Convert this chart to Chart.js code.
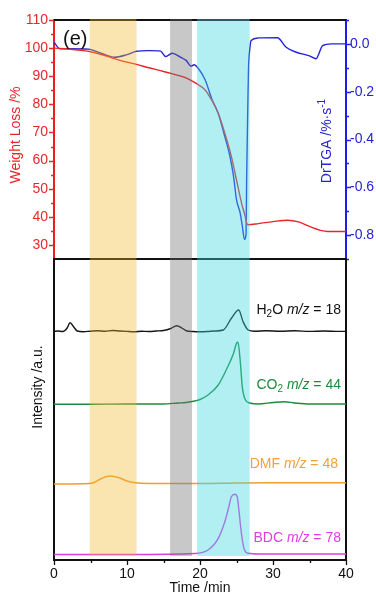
<!DOCTYPE html>
<html><head><meta charset="utf-8">
<script src="https://cdn.jsdelivr.net/npm/chart.js@4.4.0/dist/chart.umd.min.js"></script>
<style>
html,body{margin:0;padding:0;background:#fff;}
#wrap{position:relative;width:376px;height:604px;background:#fff;}
canvas{position:absolute;left:0;top:0;}
</style></head><body>
<div id="wrap"><canvas id="cTop" width="376" height="604"></canvas><canvas id="cBot" width="376" height="604"></canvas></div>
<script>
// ---------- DATA ----------
const wlTime = [0, 2, 4, 5, 6, 8, 10, 11.3, 13, 15, 16, 17, 18, 19.3, 20.7, 21.6, 22.5, 23.4, 24.3, 25.0, 25.7, 26.2, 26.4, 26.6, 28, 30, 32, 33.5, 35, 36.5, 37.5, 40];
const weightLoss = [100, 99.7, 99.1, 98.7, 98.1, 96.5, 95.0, 94.2, 93.0, 91.7, 91.0, 90.3, 89.5, 87.7, 85.1, 81.5, 76.8, 69.7, 61.4, 53.1, 44.8, 40.0, 37.7, 37.2, 37.6, 38.3, 38.8, 38.2, 36.6, 35.2, 34.8, 34.8];

const dtgTime = [0, 0.8, 2, 4.7, 6.5, 8.3, 10, 11.3, 13, 14.6, 15.3, 16.2, 17.3, 18.1, 18.8, 19.2, 19.7, 20.7, 21.6, 22.5, 23.4, 24.1, 24.6, 25.0, 25.5, 25.8, 26.1, 26.3, 26.4, 26.55, 26.65, 26.8, 27, 28, 30.6, 31.8, 33.2, 35, 35.9, 36.8, 38, 40];
const drTGA = [0.007, -0.02, -0.02, -0.022, -0.04, -0.056, -0.045, -0.031, -0.028, -0.03, -0.053, -0.039, -0.055, -0.069, -0.093, -0.087, -0.10, -0.15, -0.229, -0.291, -0.388, -0.47, -0.555, -0.652, -0.707, -0.763, -0.818, -0.80, -0.54, -0.26, -0.097, -0.028, 0.014, 0.025, 0.026, -0.014, -0.035, -0.05, -0.062, -0.007, 0.0, 0.0];

const h2oTime = [0, 0.5, 1.2, 1.8, 2.2, 2.7, 3.2, 4, 5, 6, 7, 8, 9, 10, 11, 12, 13, 14, 15, 16, 16.8, 17.5, 18.2, 19, 20, 21, 22, 23.2, 24.3, 25.3, 25.9, 26.6, 27.5, 29, 31, 33, 35, 37, 39, 40];
const h2o = [228.5, 229, 228.5, 232, 237.3, 233, 229, 228.3, 228.8, 229.2, 228.8, 229.5, 229, 228.6, 228.3, 228.7, 228.5, 229, 229.5, 231.5, 234.3, 232, 229, 228.5, 228.3, 228.5, 229, 230, 241.7, 250, 238.3, 230, 228.8, 229.3, 228.7, 229.2, 228.6, 229, 228.6, 228.6];

const co2Time = [0, 5, 10, 15, 17, 18.1, 19.3, 20, 21.1, 22.5, 23.7, 24.6, 25.0, 25.2, 25.5, 25.8, 26.2, 26.8, 28, 30, 31.5, 33, 35, 38, 40];
const co2 = [155.7, 155.7, 156, 156, 157, 157.5, 159, 160.5, 165, 175, 191.7, 206.7, 216.7, 217.7, 200, 172.7, 160.5, 157, 156, 157.5, 158.3, 157, 156, 156, 156];

const dmfTime = [0, 4.8, 5.5, 6.5, 7.7, 9, 10, 11.1, 13, 20, 25, 30, 40];
const dmf = [76, 76.5, 77.5, 81.5, 84, 82, 79, 77.3, 76.5, 76.5, 77, 77.3, 77.3];

const bdcTime = [0, 10, 19.3, 21.1, 22.5, 23.4, 23.9, 24.3, 24.8, 25.1, 25.35, 25.7, 26.1, 26.6, 28, 40];
const bdc = [5.5, 5.5, 6.5, 10, 21.7, 38.3, 51.7, 63.3, 65.7, 63.3, 48.3, 25, 10, 6.7, 6, 6];

const bandStart = [4.9, 15.9, 19.6];
const bandEnd = [11.3, 18.9, 26.8];

const wlTicks = [30, 40, 50, 60, 70, 80, 90, 100, 110];
const wlMinor = [35, 45, 55, 65, 75, 85, 95, 105];
const dtgTicks = [0, -0.2, -0.4, -0.6, -0.8];
const dtgMinor = [0.1, -0.1, -0.3, -0.5, -0.7, -0.9];
const timeTicks = [0, 10, 20, 30, 40];
const timeMinor = [5, 15, 25, 35];

// ---------- STYLE ----------
const bandColors = ['rgba(241,181,40,0.37)', 'rgba(110,110,110,0.38)', 'rgba(60,215,225,0.40)'];
const FONT = '"Liberation Sans", Arial, sans-serif';
Chart.defaults.font.family = FONT;
const RED = '#e8262a', BLUE = '#2424d6';

const pts = (t, v) => t.map((x, i) => ({x: x, y: v[i]}));
const lineDs = (t, v, axis, color) => ({data: pts(t, v), yAxisID: axis, borderColor: color, borderWidth: 1.4,
  pointRadius: 0, fill: false, cubicInterpolationMode: 'monotone'});

function tickMarks(ctx, scale, values, len, side, color) {
  const a = scale.chart.chartArea;
  ctx.save(); ctx.strokeStyle = color; ctx.lineWidth = 1.3; ctx.beginPath();
  values.forEach(v => {
    const p = Math.round(scale.getPixelForValue(v)) + 0.5;
    if (side === 'left') { ctx.moveTo(a.left, p); ctx.lineTo(a.left - len, p); }
    else if (side === 'right') { ctx.moveTo(a.right, p); ctx.lineTo(a.right + len, p); }
    else { ctx.moveTo(p, a.bottom); ctx.lineTo(p, a.bottom + len); }
  });
  ctx.stroke(); ctx.restore();
}
function drawBands(chart, yTop, yBot) {
  const ctx = chart.ctx, x = chart.scales.x;
  ctx.save();
  bandStart.forEach((s, i) => {
    const x0 = x.getPixelForValue(s), x1 = x.getPixelForValue(bandEnd[i]);
    ctx.fillStyle = bandColors[i];
    ctx.fillRect(x0, yTop, x1 - x0, yBot - yTop);
  });
  ctx.restore();
}
function rotText(ctx, parts, cx, cy, color) {
  ctx.save(); ctx.translate(cx, cy); ctx.rotate(-Math.PI / 2);
  ctx.fillStyle = color; ctx.textBaseline = 'middle'; ctx.textAlign = 'left';
  let total = 0;
  parts.forEach(p => { ctx.font = p.f; total += ctx.measureText(p.t).width; });
  let x = -total / 2;
  parts.forEach(p => { ctx.font = p.f; ctx.fillText(p.t, x, p.dy || 0); x += ctx.measureText(p.t).width; });
  ctx.restore();
}
function richRight(ctx, parts, xr, cy, color) {
  ctx.save(); ctx.fillStyle = color; ctx.textBaseline = 'middle'; ctx.textAlign = 'left';
  let total = 0;
  parts.forEach(p => { ctx.font = p.f; total += ctx.measureText(p.t).width; });
  let x = xr - total;
  parts.forEach(p => { ctx.font = p.f; ctx.fillText(p.t, x, cy + (p.dy || 0)); x += ctx.measureText(p.t).width; });
  ctx.restore();
}
const F14 = '14px ' + FONT, F14I = 'italic 14px ' + FONT, F10 = '10px ' + FONT;

// ---------- TOP CHART ----------
const topPlugin = {
  id: 'topDeco',
  afterDatasetsDraw(chart) {
    const ctx = chart.ctx, a = chart.chartArea;
    ctx.save(); ctx.strokeStyle = '#111'; ctx.lineWidth = 2;
    ctx.beginPath(); ctx.moveTo(a.left, a.top); ctx.lineTo(a.right, a.top);
    ctx.moveTo(a.left, a.bottom); ctx.lineTo(a.right, a.bottom); ctx.stroke(); ctx.restore();
    tickMarks(ctx, chart.scales.yW, wlTicks, 5, 'left', RED);
    tickMarks(ctx, chart.scales.yW, wlMinor, 3, 'left', RED);
    tickMarks(ctx, chart.scales.yD, dtgTicks, 5, 'right', BLUE);
    tickMarks(ctx, chart.scales.yD, dtgMinor, 3, 'right', BLUE);
    ctx.save(); ctx.fillStyle = '#111'; ctx.font = '20px ' + FONT; ctx.textBaseline = 'middle';
    ctx.fillText('(e)', 63, 39); ctx.restore();
    rotText(ctx, [{t: 'Weight Loss /%', f: F14}], 16, 135, RED);
    rotText(ctx, [{t: 'DrTGA /%·s', f: F14}, {t: '-1', f: F10, dy: -5}], 327, 141, BLUE);
  },
  afterDraw(chart) {
    const a = chart.chartArea;
    drawBands(chart, a.top - 1, a.bottom + 1);
  }
};

new Chart(document.getElementById('cTop'), {
  type: 'line',
  data: {datasets: [
    lineDs(wlTime, weightLoss, 'yW', RED),
    lineDs(dtgTime, drTGA, 'yD', BLUE)
  ]},
  options: {
    responsive: false, animation: false, devicePixelRatio: 1,
    layout: {padding: {top: 20, bottom: 345, left: 0, right: 0}},
    plugins: {legend: {display: false}, tooltip: {enabled: false}},
    scales: {
      x: {type: 'linear', min: 0, max: 40, display: false},
      yW: {type: 'linear', position: 'left', min: 25, max: 110,
        afterBuildTicks: s => { s.ticks = wlTicks.map(v => ({value: v})); },
        afterFit: s => { s.width = 54; },
        ticks: {color: RED, font: {size: 14}, padding: 6},
        grid: {drawOnChartArea: false, drawTicks: false},
        border: {color: '#ee1c1c', width: 2}},
      yD: {type: 'linear', position: 'right', min: -0.9, max: 0.1,
        afterBuildTicks: s => { s.ticks = dtgTicks.map(v => ({value: v})); },
        afterFit: s => { s.width = 30; },
        ticks: {color: BLUE, font: {size: 14}, padding: 4,
          callback: v => (Math.round(v * 10) / 10 === 0 ? '0.0' : (Math.round(v * 10) / 10).toFixed(1))},
        grid: {drawOnChartArea: false, drawTicks: false},
        border: {color: '#1c1cf0', width: 2}}
    }
  },
  plugins: [topPlugin]
});

// ---------- BOTTOM CHART ----------
const botPlugin = {
  id: 'botDeco',
  afterDatasetsDraw(chart) {
    const ctx = chart.ctx;
    tickMarks(ctx, chart.scales.x, timeTicks, 5, 'bottom', '#111');
    tickMarks(ctx, chart.scales.x, timeMinor, 3, 'bottom', '#111');
    richRight(ctx, [{t: 'H', f: F14}, {t: '2', f: F10, dy: 4}, {t: 'O ', f: F14}, {t: 'm/z', f: F14I}, {t: ' = 18', f: F14}], 341, 310, '#111');
    richRight(ctx, [{t: 'CO', f: F14}, {t: '2', f: F10, dy: 4}, {t: ' ', f: F14}, {t: 'm/z', f: F14I}, {t: ' = 44', f: F14}], 341, 385, '#1f8a3c');
    richRight(ctx, [{t: 'DMF ', f: F14}, {t: 'm/z', f: F14I}, {t: ' = 48', f: F14}], 338, 464, '#f0a040');
    richRight(ctx, [{t: 'BDC ', f: F14}, {t: 'm/z', f: F14I}, {t: ' = 78', f: F14}], 341, 538, '#e23ce2');
    rotText(ctx, [{t: 'Intensity /a.u.', f: F14}], 38, 387, '#111');
    ctx.save(); ctx.fillStyle = '#111'; ctx.font = F14; ctx.textAlign = 'center'; ctx.textBaseline = 'middle';
    ctx.fillText('Time /min', 200, 588); ctx.restore();
  },
  afterDraw(chart) {
    const a = chart.chartArea;
    drawBands(chart, a.top + 1, chart.scales.yI.getPixelForValue(4));
  }
};

new Chart(document.getElementById('cBot'), {
  type: 'line',
  data: {datasets: [
    lineDs(h2oTime, h2o, 'yI', '#151515'),
    lineDs(co2Time, co2, 'yI', '#1f8a3c'),
    lineDs(dmfTime, dmf, 'yI', '#f29c30'),
    lineDs(bdcTime, bdc, 'yI', '#e03ce0')
  ]},
  options: {
    responsive: false, animation: false, devicePixelRatio: 1,
    layout: {padding: {top: 259, bottom: 0, left: 0, right: 0}},
    plugins: {legend: {display: false}, tooltip: {enabled: false}},
    scales: {
      x: {type: 'linear', position: 'bottom', min: 0, max: 40,
        afterBuildTicks: s => { s.ticks = timeTicks.map(v => ({value: v})); },
        afterFit: s => { s.height = 44; },
        ticks: {color: '#111', font: {size: 14}, padding: 6},
        grid: {drawOnChartArea: false, drawTicks: false},
        border: {color: '#111', width: 2}},
      yI: {type: 'linear', position: 'left', min: 0, max: 301,
        afterFit: s => { s.width = 54; },
        ticks: {display: false},
        grid: {drawOnChartArea: false, drawTicks: false},
        border: {color: '#111', width: 2}},
      yR: {type: 'linear', position: 'right', min: 0, max: 301,
        afterFit: s => { s.width = 30; },
        ticks: {display: false},
        grid: {drawOnChartArea: false, drawTicks: false},
        border: {color: '#111', width: 2}}
    }
  },
  plugins: [botPlugin]
});
</script>
</body></html>
